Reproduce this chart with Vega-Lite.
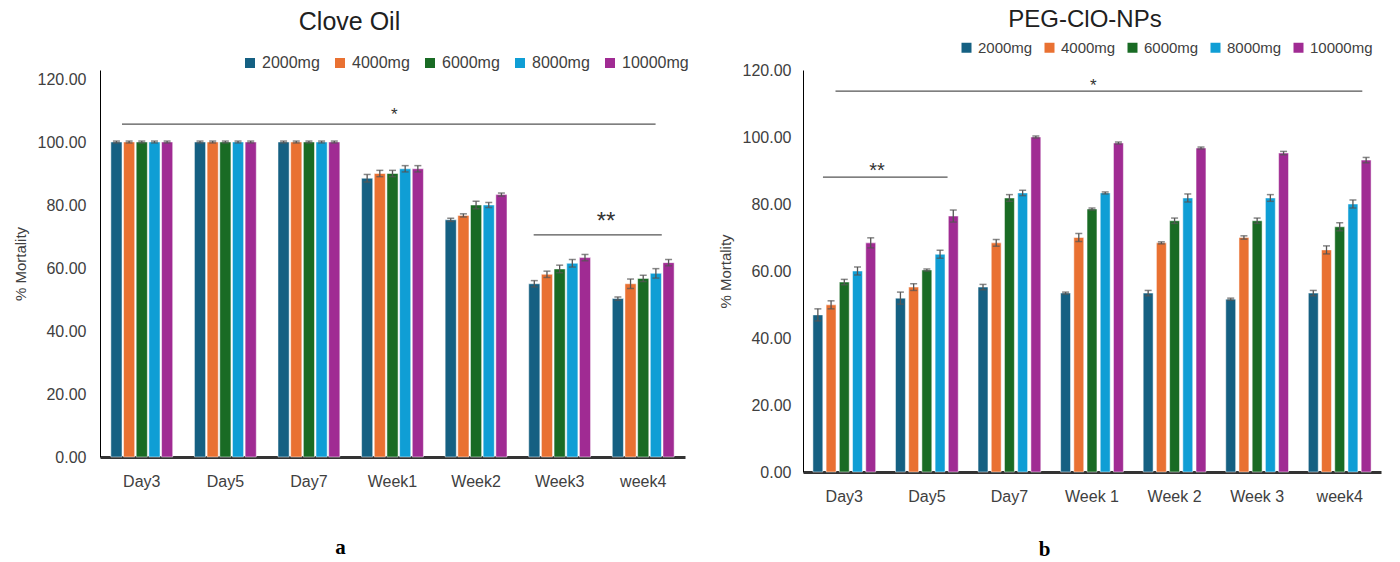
{
  "$schema": "https://vega.github.io/schema/vega-lite/v6.json",
  "background": "white",
  "padding": {"left": 13, "top": 8, "right": 5, "bottom": 5},
  "config": {
    "font": "Liberation Sans",
    "view": {"stroke": null},
    "axis": {"labelColor": "#404040", "titleColor": "#404040", "labelFontSize": 16, "titleFontSize": 15, "titleFontWeight": "normal", "grid": false, "ticks": false},
    "legend": {"labelColor": "#404040"},
    "title": {"color": "#202020", "fontWeight": "normal"}
  },
  "datasets": {
    "clove": [
      {"t":"Day3","d":"2000mg","v":100,"lo":99.7,"hi":100.3},{"t":"Day3","d":"4000mg","v":100,"lo":99.7,"hi":100.3},{"t":"Day3","d":"6000mg","v":100,"lo":99.7,"hi":100.3},{"t":"Day3","d":"8000mg","v":100,"lo":99.7,"hi":100.3},{"t":"Day3","d":"10000mg","v":100,"lo":99.7,"hi":100.3},
      {"t":"Day5","d":"2000mg","v":100,"lo":99.7,"hi":100.3},{"t":"Day5","d":"4000mg","v":100,"lo":99.7,"hi":100.3},{"t":"Day5","d":"6000mg","v":100,"lo":99.7,"hi":100.3},{"t":"Day5","d":"8000mg","v":100,"lo":99.7,"hi":100.3},{"t":"Day5","d":"10000mg","v":100,"lo":99.7,"hi":100.3},
      {"t":"Day7","d":"2000mg","v":100,"lo":99.7,"hi":100.3},{"t":"Day7","d":"4000mg","v":100,"lo":99.7,"hi":100.3},{"t":"Day7","d":"6000mg","v":100,"lo":99.7,"hi":100.3},{"t":"Day7","d":"8000mg","v":100,"lo":99.7,"hi":100.3},{"t":"Day7","d":"10000mg","v":100,"lo":99.7,"hi":100.3},
      {"t":"Week1","d":"2000mg","v":88.5,"lo":87.3,"hi":89.7},{"t":"Week1","d":"4000mg","v":90,"lo":89,"hi":91},{"t":"Week1","d":"6000mg","v":90,"lo":89,"hi":91},{"t":"Week1","d":"8000mg","v":91.5,"lo":90.5,"hi":92.5},{"t":"Week1","d":"10000mg","v":91.5,"lo":90.5,"hi":92.5},
      {"t":"Week2","d":"2000mg","v":75.3,"lo":74.8,"hi":75.8},{"t":"Week2","d":"4000mg","v":76.7,"lo":76.2,"hi":77.2},{"t":"Week2","d":"6000mg","v":80,"lo":78.8,"hi":81.2},{"t":"Week2","d":"8000mg","v":80,"lo":79.2,"hi":80.8},{"t":"Week2","d":"10000mg","v":83.3,"lo":82.8,"hi":83.8},
      {"t":"Week3","d":"2000mg","v":55,"lo":54,"hi":56},{"t":"Week3","d":"4000mg","v":58,"lo":57,"hi":59},{"t":"Week3","d":"6000mg","v":59.7,"lo":58.5,"hi":60.9},{"t":"Week3","d":"8000mg","v":61.5,"lo":60.3,"hi":62.7},{"t":"Week3","d":"10000mg","v":63.3,"lo":62.3,"hi":64.3},
      {"t":"week4","d":"2000mg","v":50.3,"lo":49.8,"hi":50.8},{"t":"week4","d":"4000mg","v":55,"lo":53.5,"hi":56.5},{"t":"week4","d":"6000mg","v":56.7,"lo":55.7,"hi":57.7},{"t":"week4","d":"8000mg","v":58.3,"lo":56.8,"hi":59.8},{"t":"week4","d":"10000mg","v":61.7,"lo":60.7,"hi":62.7}
    ],
    "peg": [
      {"t":"Day3","d":"2000mg","v":46.9,"lo":45.1,"hi":48.7},{"t":"Day3","d":"4000mg","v":49.9,"lo":48.7,"hi":51.1},{"t":"Day3","d":"6000mg","v":56.7,"lo":55.9,"hi":57.5},{"t":"Day3","d":"8000mg","v":60,"lo":58.8,"hi":61.2},{"t":"Day3","d":"10000mg","v":68.4,"lo":66.9,"hi":69.9},
      {"t":"Day5","d":"2000mg","v":51.9,"lo":50.1,"hi":53.7},{"t":"Day5","d":"4000mg","v":55.2,"lo":54.2,"hi":56.2},{"t":"Day5","d":"6000mg","v":60.3,"lo":60,"hi":60.6},{"t":"Day5","d":"8000mg","v":65,"lo":63.8,"hi":66.2},{"t":"Day5","d":"10000mg","v":76.4,"lo":74.6,"hi":78.2},
      {"t":"Day7","d":"2000mg","v":55.2,"lo":54.4,"hi":56},{"t":"Day7","d":"4000mg","v":68.4,"lo":67.4,"hi":69.4},{"t":"Day7","d":"6000mg","v":81.8,"lo":80.8,"hi":82.8},{"t":"Day7","d":"8000mg","v":83.3,"lo":82.5,"hi":84.1},{"t":"Day7","d":"10000mg","v":100,"lo":99.7,"hi":100.3},
      {"t":"Week 1","d":"2000mg","v":53.4,"lo":53.1,"hi":53.7},{"t":"Week 1","d":"4000mg","v":70,"lo":68.8,"hi":71.2},{"t":"Week 1","d":"6000mg","v":78.5,"lo":78.2,"hi":78.8},{"t":"Week 1","d":"8000mg","v":83.3,"lo":83,"hi":83.6},{"t":"Week 1","d":"10000mg","v":98.2,"lo":97.9,"hi":98.5},
      {"t":"Week 2","d":"2000mg","v":53.4,"lo":52.6,"hi":54.2},{"t":"Week 2","d":"4000mg","v":68.4,"lo":68.1,"hi":68.7},{"t":"Week 2","d":"6000mg","v":75,"lo":74.2,"hi":75.8},{"t":"Week 2","d":"8000mg","v":81.8,"lo":80.6,"hi":83},{"t":"Week 2","d":"10000mg","v":96.7,"lo":96.4,"hi":97},
      {"t":"Week 3","d":"2000mg","v":51.6,"lo":51.3,"hi":51.9},{"t":"Week 3","d":"4000mg","v":70,"lo":69.5,"hi":70.5},{"t":"Week 3","d":"6000mg","v":75,"lo":74.2,"hi":75.8},{"t":"Week 3","d":"8000mg","v":81.8,"lo":80.8,"hi":82.8},{"t":"Week 3","d":"10000mg","v":95.2,"lo":94.7,"hi":95.7},
      {"t":"week4","d":"2000mg","v":53.4,"lo":52.6,"hi":54.2},{"t":"week4","d":"4000mg","v":66.3,"lo":65.1,"hi":67.5},{"t":"week4","d":"6000mg","v":73.2,"lo":72,"hi":74.4},{"t":"week4","d":"8000mg","v":80,"lo":78.8,"hi":81.2},{"t":"week4","d":"10000mg","v":93.1,"lo":92.3,"hi":93.9}
    ],
    "notes": [
      {"id":"a1","s":"Day3","e":"week4","y":105.7,"label":"*"},
      {"id":"a2","s":"Week3","e":"week4","y":70.5,"label":"**"},
      {"id":"b1","s":"Day3","e":"week4","y":113.7,"label":"*"},
      {"id":"b2","s":"Day3","e":"Day5","y":88,"label":"**"}
    ],
    "marks": [
      {"id":"a1","x":"Week1","y":108.5,"label":"*"},
      {"id":"a2","x":"Week3","y":74.5,"label":"**"},
      {"id":"b1","x":"Week 1","y":115.1,"label":"*"},
      {"id":"b2","x":"Day3","y":89.8,"label":"**"}
    ]
  },
  "hconcat": [
    {
      "width": 585,
      "height": 387,
      "title": {"text": "Clove Oil", "fontSize": 25, "dx": -43, "offset": 20},
      "layer": [
        {
          "data": {"name": "clove"},
          "mark": {"type": "bar", "stroke": "white", "strokeWidth": 0.5},
          "encoding": {
            "x": {"field": "t", "type": "nominal", "scale": {"domain": ["Day3","Day5","Day7","Week1","Week2","Week3","week4"], "paddingInner": 0.26, "paddingOuter": 0.13},
              "axis": {"title": "a", "titleFont": "Liberation Serif", "titleFontWeight": "bold", "titleFontSize": 21, "titleColor": "#000", "titlePadding": 47, "titleX": 240, "labelAngle": 0, "labelPadding": 16, "domainWidth": 3, "domainColor": "#333"}},
            "xOffset": {"field": "d", "type": "nominal", "scale": {"domain": ["2000mg","4000mg","6000mg","8000mg","10000mg"], "paddingInner": 0.12}},
            "y": {"field": "v", "type": "quantitative", "scale": {"domain": [0, 122.86], "nice": false},
              "axis": {"title": "% Mortality", "values": [0,20,40,60,80,100,120], "format": ".2f", "labelPadding": 14, "titlePadding": 9, "domainColor": "#000", "domainWidth": 1}},
            "color": {"field": "d", "type": "nominal",
              "scale": {"domain": ["2000mg","4000mg","6000mg","8000mg","10000mg"], "range": ["#156082","#E97132","#196B24","#0F9ED5","#A02B93"]},
              "legend": {"orient": "none", "legendX": 142, "legendY": -15, "direction": "horizontal", "title": null, "symbolType": "square", "symbolSize": 100, "labelFontSize": 16, "columnPadding": 12, "labelOffset": 4, "symbolStrokeWidth": 0}}
          }
        },
        {
          "data": {"name": "clove"},
          "mark": {"type": "rule", "color": "#555", "strokeWidth": 1.3},
          "encoding": {
            "x": {"field": "t", "type": "nominal"},
            "xOffset": {"field": "d", "type": "nominal"},
            "y": {"field": "lo", "type": "quantitative"},
            "y2": {"field": "hi"}
          }
        },
        {
          "data": {"name": "clove"},
          "mark": {"type": "tick", "color": "#555", "size": 7, "thickness": 1.5, "orient": "horizontal"},
          "encoding": {
            "x": {"field": "t", "type": "nominal"},
            "xOffset": {"field": "d", "type": "nominal"},
            "y": {"field": "hi", "type": "quantitative"}
          }
        },
        {
          "data": {"name": "clove"},
          "mark": {"type": "tick", "color": "#555", "size": 7, "thickness": 1.5, "orient": "horizontal"},
          "encoding": {
            "x": {"field": "t", "type": "nominal"},
            "xOffset": {"field": "d", "type": "nominal"},
            "y": {"field": "lo", "type": "quantitative"}
          }
        },
        {
          "data": {"name": "notes"},
          "transform": [{"filter": "datum.id === 'a1'"}],
          "mark": {"type": "rule", "color": "#555", "strokeWidth": 1.3},
          "encoding": {
            "x": {"field": "s", "type": "nominal", "bandPosition": 0.18},
            "x2": {"field": "e", "bandPosition": 0.7},
            "y": {"field": "y", "type": "quantitative"}
          }
        },
        {
          "data": {"name": "notes"},
          "transform": [{"filter": "datum.id === 'a2'"}],
          "mark": {"type": "rule", "color": "#555", "strokeWidth": 1.3},
          "encoding": {
            "x": {"field": "s", "type": "nominal", "bandPosition": 0.08},
            "x2": {"field": "e", "bandPosition": 0.8},
            "y": {"field": "y", "type": "quantitative"}
          }
        },
        {
          "data": {"name": "marks"},
          "transform": [{"filter": "datum.id === 'a1'"}],
          "mark": {"type": "text", "fontSize": 17, "color": "#333"},
          "encoding": {
            "x": {"field": "x", "type": "nominal", "bandPosition": 0.53},
            "y": {"field": "y", "type": "quantitative"},
            "text": {"field": "label"}
          }
        },
        {
          "data": {"name": "marks"},
          "transform": [{"filter": "datum.id === 'a2'"}],
          "mark": {"type": "text", "fontSize": 24, "color": "#333"},
          "encoding": {
            "x": {"field": "x", "type": "nominal", "bandPosition": 1.25},
            "y": {"field": "y", "type": "quantitative"},
            "text": {"field": "label"}
          }
        }
      ]
    },
    {
      "width": 578,
      "height": 402,
      "title": {"text": "PEG-ClO-NPs", "fontSize": 24, "dx": -7, "offset": 8},
      "layer": [
        {
          "data": {"name": "peg"},
          "mark": {"type": "bar", "stroke": "white", "strokeWidth": 0.5},
          "encoding": {
            "x": {"field": "t", "type": "nominal", "scale": {"domain": ["Day3","Day5","Day7","Week 1","Week 2","Week 3","week4"], "paddingInner": 0.24, "paddingOuter": 0.12},
              "axis": {"title": "b", "titleFont": "Liberation Serif", "titleFontWeight": "bold", "titleFontSize": 21, "titleColor": "#000", "titlePadding": 34, "titleX": 241, "labelAngle": 0, "labelPadding": 16, "domainWidth": 3, "domainColor": "#333"}},
            "xOffset": {"field": "d", "type": "nominal", "scale": {"domain": ["2000mg","4000mg","6000mg","8000mg","10000mg"], "paddingInner": 0.25}},
            "y": {"field": "v", "type": "quantitative", "scale": {"domain": [0, 120]},
              "axis": {"title": "% Mortality", "values": [0,20,40,60,80,100,120], "format": ".2f", "labelPadding": 12, "titlePadding": 9, "domainColor": "#000", "domainWidth": 1}},
            "color": {"field": "d", "type": "nominal",
              "scale": {"domain": ["2000mg","4000mg","6000mg","8000mg","10000mg"], "range": ["#156082","#E97132","#196B24","#0F9ED5","#A02B93"]},
              "legend": {"orient": "none", "legendX": 156, "legendY": -30, "direction": "horizontal", "title": null, "symbolType": "square", "symbolSize": 100, "labelFontSize": 15, "columnPadding": 9, "labelOffset": 4, "symbolStrokeWidth": 0}}
          }
        },
        {
          "data": {"name": "peg"},
          "mark": {"type": "rule", "color": "#555", "strokeWidth": 1.3},
          "encoding": {
            "x": {"field": "t", "type": "nominal"},
            "xOffset": {"field": "d", "type": "nominal"},
            "y": {"field": "lo", "type": "quantitative"},
            "y2": {"field": "hi"}
          }
        },
        {
          "data": {"name": "peg"},
          "mark": {"type": "tick", "color": "#555", "size": 7, "thickness": 1.5, "orient": "horizontal"},
          "encoding": {
            "x": {"field": "t", "type": "nominal"},
            "xOffset": {"field": "d", "type": "nominal"},
            "y": {"field": "hi", "type": "quantitative"}
          }
        },
        {
          "data": {"name": "peg"},
          "mark": {"type": "tick", "color": "#555", "size": 7, "thickness": 1.5, "orient": "horizontal"},
          "encoding": {
            "x": {"field": "t", "type": "nominal"},
            "xOffset": {"field": "d", "type": "nominal"},
            "y": {"field": "lo", "type": "quantitative"}
          }
        },
        {
          "data": {"name": "notes"},
          "transform": [{"filter": "datum.id === 'b1'"}],
          "mark": {"type": "rule", "color": "#555", "strokeWidth": 1.3},
          "encoding": {
            "x": {"field": "s", "type": "nominal", "bandPosition": 0.36},
            "x2": {"field": "e", "bandPosition": 0.86},
            "y": {"field": "y", "type": "quantitative"}
          }
        },
        {
          "data": {"name": "notes"},
          "transform": [{"filter": "datum.id === 'b2'"}],
          "mark": {"type": "rule", "color": "#555", "strokeWidth": 1.3},
          "encoding": {
            "x": {"field": "s", "type": "nominal", "bandPosition": 0.16},
            "x2": {"field": "e", "bandPosition": 0.83},
            "y": {"field": "y", "type": "quantitative"}
          }
        },
        {
          "data": {"name": "marks"},
          "transform": [{"filter": "datum.id === 'b1'"}],
          "mark": {"type": "text", "fontSize": 17, "color": "#333"},
          "encoding": {
            "x": {"field": "x", "type": "nominal", "bandPosition": 0.52},
            "y": {"field": "y", "type": "quantitative"},
            "text": {"field": "label"}
          }
        },
        {
          "data": {"name": "marks"},
          "transform": [{"filter": "datum.id === 'b2'"}],
          "mark": {"type": "text", "fontSize": 20, "color": "#333"},
          "encoding": {
            "x": {"field": "x", "type": "nominal", "bandPosition": 1.02},
            "y": {"field": "y", "type": "quantitative"},
            "text": {"field": "label"}
          }
        }
      ]
    }
  ],
  "spacing": 29,
  "resolve": {"scale": {"color": "independent", "x": "independent", "y": "independent", "xOffset": "independent"}, "legend": {"color": "independent"}}
}
